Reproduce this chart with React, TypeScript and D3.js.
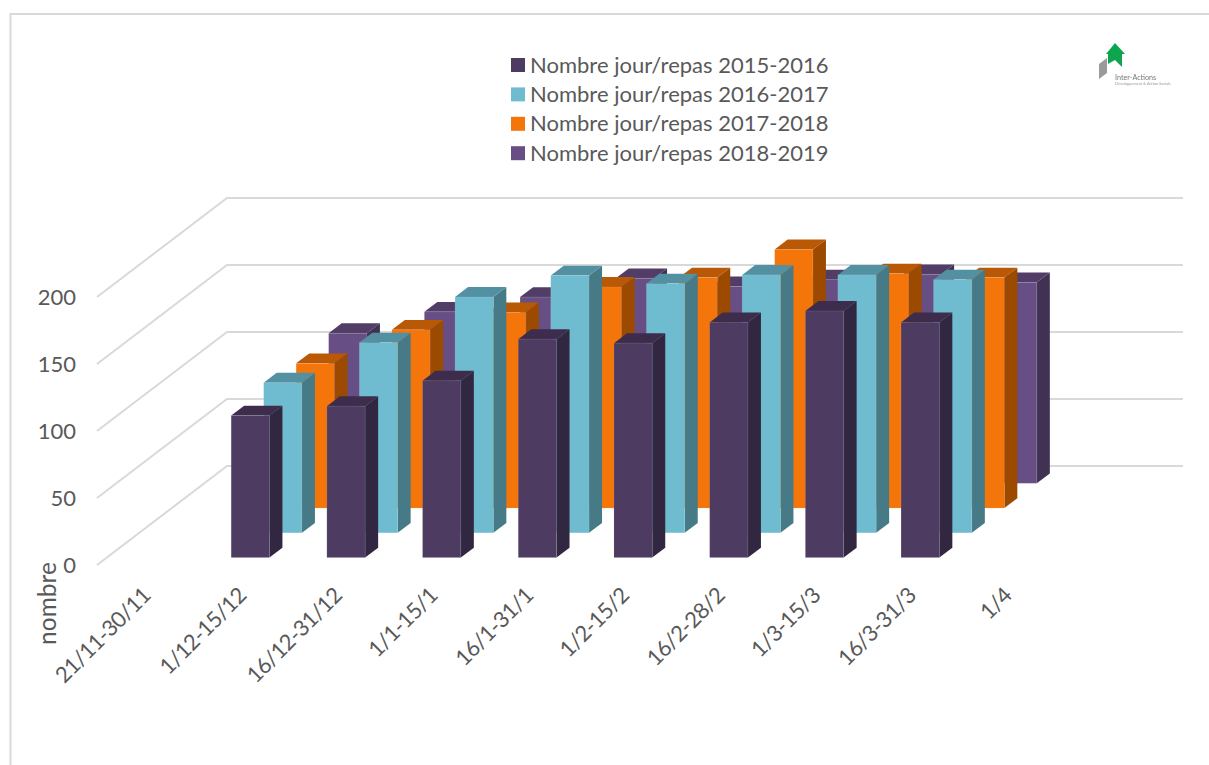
import React from "react";
import * as d3 from "d3";

const categories = ["21/11-30/11", "1/12-15/12", "16/12-31/12", "1/1-15/1", "16/1-31/1", "1/2-15/2", "16/2-28/2", "1/3-15/3", "16/3-31/3", "1/4"];
const seriesNames = ["Nombre jour/repas 2015-2016", "Nombre jour/repas 2016-2017", "Nombre jour/repas 2017-2018", "Nombre jour/repas 2018-2019"];

const values2015 = [null, 106, 113, 132, 163, 160, 175.5, 184, 175.5, null];
const values2016 = [null, 112, 142, 176, 192, 186, 192.5, 192.5, 189, null];
const values2017 = [null, 108, 133, 146, 165, 172, 193, 175, 172, null];
const values2018 = [null, 112, 128, 139, 153, 147, 152, 156, 150, null];
const allValues = [values2015, values2016, values2017, values2018];

const yTicks = [0, 50, 100, 150, 200];

// front, side, top
const colors = [
  ["#4d3b62", "#312741", "#3e2c4d"],
  ["#6fbbd0", "#467a87", "#5390a2"],
  ["#f4750a", "#9b4a00", "#b95805"],
  ["#674e84", "#413253", "#523d66"],
];

const width = 1209;
const height = 765;
const font = "Lato, 'Open Sans', sans-serif";
const textColor = "#595959";

// the floor goes up and right from the front corner
const frontX = 97;
const frontY = 565;
const depthX = 130;
const depthY = -99;
const plotWidth = 957;

const x = d3.scaleBand<string>().domain(categories).range([frontX, frontX + plotWidth]).paddingInner(0.6).paddingOuter(0.3);
const depth = d3.scaleBand<string>().domain(seriesNames).range([0, 1]).paddingInner(0.6).paddingOuter(0.3);
const y = d3.scaleLinear().domain([0, 200]).range([frontY, frontY - 268]);

const poly = (pts: number[][]) => d3.line()(pts as [number, number][]) + "Z";

function Bar({ cat, name, value, c }: { cat: string; name: string; value: number; c: string[] }) {
  const t = depth(name)!;
  const w = x.bandwidth();
  const dx = depth.bandwidth() * depthX;
  const dy = depth.bandwidth() * depthY;
  const x0 = x(cat)! + t * depthX;
  const x1 = x0 + w;
  const base = frontY + t * depthY;
  const top = base - (frontY - y(value));
  return (
    <g>
      <path d={poly([[x1, base], [x1 + dx, base + dy], [x1 + dx, top + dy], [x1, top]])} fill={c[1]} />
      <path d={poly([[x0, top], [x1, top], [x1 + dx, top + dy], [x0 + dx, top + dy]])} fill={c[2]} />
      <rect x={x0} y={top} width={w} height={base - top} fill={c[0]} stroke="#fff" strokeOpacity={0.12} strokeWidth={0.8} />
    </g>
  );
}

export default function App() {
  return (
    <svg width={width} height={height} style={{ position: "absolute", left: 0, top: 0, background: "#fff" }} fontFamily={font}>
      <defs>
        <filter id="soft"><feGaussianBlur stdDeviation="0.6" /></filter>
      </defs>

      {/* chart frame */}
      <path d="M10.5,765V14H1209" fill="none" stroke="#d9d9d9" strokeWidth={2} />

      {/* gridlines */}
      {yTicks.map((t) => (
        <path key={t} d={`M${frontX},${y(t)}L${frontX + depthX},${y(t) + depthY}H1183`} fill="none" stroke="#d9d9d9" strokeWidth={2} />
      ))}

      {yTicks.map((t) => (
        <text key={t} x={76} y={y(t) + 8} textAnchor="end" fontSize={22} fill={textColor}>{t}</text>
      ))}

      {/* back series first so the front ones cover them */}
      {seriesNames.map((name, s) => ({ name, s })).reverse().map(({ name, s }) =>
        categories.map((cat, i) => {
          const v = allValues[s][i];
          return v == null ? null : <Bar key={name + cat} cat={cat} name={name} value={v} c={colors[s]} />;
        })
      )}

      {categories.map((cat) => {
        const cx = x(cat)! + x.bandwidth() / 2;
        return (
          <text key={cat} transform={`translate(${cx + 7},${frontY + 32}) rotate(-45)`} textAnchor="end" fontSize={22} letterSpacing={-0.6} fill={textColor}>{cat}</text>
        );
      })}

      <text transform="translate(56,603.5) rotate(-90)" textAnchor="middle" fontSize={24.5} fill={textColor}>nombre</text>

      {/* legend */}
      {seriesNames.map((name, s) => (
        <g key={name} transform={`translate(511,${65 + s * 29.4})`}>
          <rect x={0} y={-7} width={14} height={14} fill={colors[s][0]} />
          <text x={19} y={7.5} fontSize={22} fill={textColor}>{name}</text>
        </g>
      ))}

      {/* logo */}
      <g filter="url(#soft)">
        <path d="M1115,43L1125,54H1122V67L1115,60L1108,64V54H1106Z" fill="#0fa650" />
        <path d="M1099,64L1107,58V73L1099,79Z" fill="#9a9a9a" />
        <text x={1115} y={80} fontSize={7.2} fill="#777">Inter-Actions</text>
        <text x={1115} y={84.5} fontSize={3.9} fill="#999">Développement & Action Sociale</text>
      </g>
    </svg>
  );
}
